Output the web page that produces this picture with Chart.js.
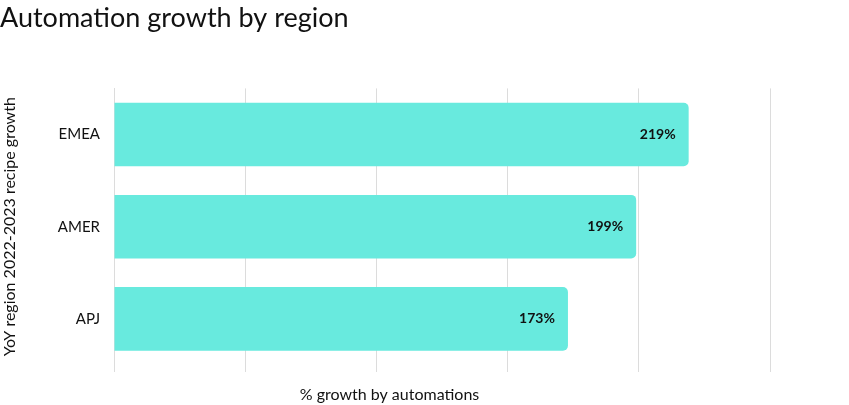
<!DOCTYPE html>
<html>
<head>
<meta charset="utf-8">
<script src="https://cdn.jsdelivr.net/npm/chart.js@4.4.1/dist/chart.umd.min.js"></script>
<style>
  html, body { margin: 0; padding: 0; background: #fff; }
  #wrap { width: 849px; height: 405px; }
</style>
</head>
<body>
<div id="wrap"><canvas id="chart" width="849" height="405"></canvas></div>
<script>
const regions = ['EMEA', 'AMER', 'APJ'];
const growth = [219, 199, 173];
const xTicks = [0, 50, 100, 150, 200, 250];

const FONT = 'Lato, "Noto Sans", sans-serif';

// value labels at the end of each bar
const barLabels = {
  id: 'barLabels',
  afterDatasetsDraw(chart) {
    const ctx = chart.ctx;
    const meta = chart.getDatasetMeta(0);
    ctx.save();
    ctx.font = 'bold 14px ' + FONT;
    ctx.fillStyle = '#111';
    ctx.textAlign = 'right';
    ctx.textBaseline = 'middle';
    meta.data.forEach((bar, i) => {
      ctx.fillText(growth[i] + '%', bar.x - 13, bar.y);
    });
    ctx.restore();
  }
};

// x axis title, sits a bit left of the plot centre
const xTitle = {
  id: 'xTitle',
  afterDraw(chart) {
    const ctx = chart.ctx;
    const s = chart.scales.x;
    ctx.save();
    ctx.font = '16px ' + FONT;
    ctx.fillStyle = '#111';
    ctx.textAlign = 'center';
    ctx.textBaseline = 'middle';
    ctx.fillText('% growth by automations', s.getPixelForValue(105), chart.height - 10);
    ctx.restore();
  }
};

new Chart(document.getElementById('chart').getContext('2d'), {
  type: 'bar',
  data: {
    labels: regions,
    datasets: [{
      data: growth,
      backgroundColor: '#68EADE',
      borderRadius: 5,
      borderSkipped: 'start',
      categoryPercentage: 1,
      barPercentage: 0.69
    }]
  },
  options: {
    indexAxis: 'y',
    responsive: false,
    animation: false,
    layout: { padding: { left: 0, right: 79, top: 0, bottom: 33 } },
    plugins: {
      legend: { display: false },
      tooltip: { enabled: false },
      title: {
        display: true,
        text: 'Automation growth by region',
        align: 'start',
        color: '#111',
        font: { family: FONT, size: 27, weight: 'normal' },
        padding: { top: 2, bottom: 54 }
      }
    },
    scales: {
      x: {
        min: 0,
        max: 250,
        afterBuildTicks(scale) { scale.ticks = xTicks.map(v => ({ value: v })); },
        ticks: { display: false },
        grid: { color: '#dcdcdc', lineWidth: 1, drawTicks: true, tickLength: 7 },
        border: { display: false }
      },
      y: {
        afterFit(scale) { scale.width = 114; },
        ticks: {
          color: '#111',
          padding: 6,
          font: { family: FONT, size: 15 }
        },
        grid: { display: false },
        border: { display: true, color: '#dcdcdc' },
        title: {
          display: true,
          text: 'YoY region 2022-2023 recipe growth',
          color: '#111',
          font: { family: FONT, size: 16 },
          padding: { top: 0, bottom: 12 }
        }
      }
    }
  },
  plugins: [barLabels, xTitle]
});
</script>
</body>
</html>
